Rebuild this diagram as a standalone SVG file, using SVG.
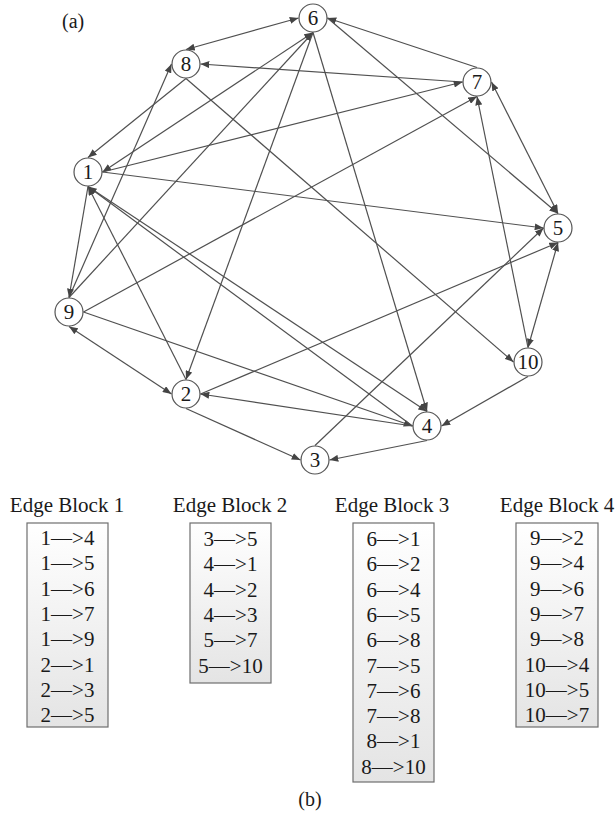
<svg xmlns="http://www.w3.org/2000/svg" width="615" height="818" viewBox="0 0 615 818">
  <style>
    .lbl { font-family: "Liberation Serif", "Times New Roman", serif; fill: #1a1a1a; }
    .node circle { fill: #ffffff; stroke: #555555; stroke-width: 1.2; }
    .node text { font-size: 21px; text-anchor: middle; }
    #connectors line { stroke: #505050; stroke-width: 1.2; fill: none; marker-end: url(#ah); }
    #connectors line.both { marker-start: url(#ah); }
    .block rect { fill: url(#boxfill); stroke: #6e6e6e; stroke-width: 1.2; }
    .block text { text-anchor: middle; }
    .title { font-size: 21px; }
    .row { font-size: 21px; }
  </style>
  <defs>
    <marker id="ah" viewBox="0 0 10 8" refX="10" refY="4" markerWidth="9" markerHeight="7" markerUnits="userSpaceOnUse" orient="auto-start-reverse">
      <path d="M0,0 L10,4 L0,8 z" fill="#444444"/>
    </marker>
    <linearGradient id="boxfill" x1="0" y1="0" x2="0" y2="1">
      <stop offset="0" stop-color="#ffffff"/>
      <stop offset="1" stop-color="#e4e4e4"/>
    </linearGradient>
  </defs>

  <rect width="615" height="818" fill="#ffffff"/>

  <text class="lbl" x="62" y="28" font-size="20">(a)</text>

  <!-- connectors attach to the top/right/bottom/left points of each circle -->
  <g id="connectors">
    <line class="both" x1="298.5" y1="18" x2="186" y2="49.5"/>
    <line x1="462.5" y1="82" x2="200.5" y2="64"/>
    <line x1="477" y1="67.5" x2="327.5" y2="18"/>
    <line class="both" x1="102.5" y1="172" x2="313" y2="32.5"/>
    <line x1="69" y1="297.5" x2="313" y2="32.5"/>
    <line x1="313" y1="32.5" x2="186" y2="379.5"/>
    <line x1="313" y1="32.5" x2="427" y2="411.5"/>
    <line x1="327.5" y1="18" x2="558" y2="213.5"/>
    <line class="both" x1="69" y1="326.5" x2="171.5" y2="394"/>
    <line x1="83.5" y1="312" x2="477" y2="96.5"/>
    <line x1="83.5" y1="312" x2="412.5" y2="426"/>
    <line x1="69" y1="297.5" x2="171.5" y2="64"/>
    <line x1="88" y1="186.5" x2="69" y2="297.5"/>
    <line x1="186" y1="78.5" x2="88" y2="157.5"/>
    <line x1="186" y1="78.5" x2="513.5" y2="362"/>
    <line x1="102.5" y1="172" x2="543.5" y2="228"/>
    <line x1="102.5" y1="172" x2="462.5" y2="82"/>
    <line x1="88" y1="186.5" x2="427" y2="411.5"/>
    <line x1="412.5" y1="426" x2="88" y2="186.5"/>
    <line x1="186" y1="379.5" x2="88" y2="186.5"/>
    <line x1="186" y1="408.5" x2="300.5" y2="460"/>
    <line x1="200.5" y1="394" x2="558" y2="242.5"/>
    <line x1="315" y1="445.5" x2="543.5" y2="228"/>
    <line x1="412.5" y1="426" x2="200.5" y2="394"/>
    <line x1="427" y1="440.5" x2="329.5" y2="460"/>
    <line class="both" x1="558" y1="213.5" x2="491.5" y2="82"/>
    <line class="both" x1="558" y1="242.5" x2="528" y2="347.5"/>
    <line x1="528" y1="347.5" x2="477" y2="96.5"/>
    <line x1="528" y1="376.5" x2="441.5" y2="426"/>
  </g>

  <g id="node-1" class="node"><circle cx="88" cy="172" r="14"/><text class="lbl" x="88" y="179">1</text></g>
  <g id="node-2" class="node"><circle cx="186" cy="394" r="14"/><text class="lbl" x="186" y="401">2</text></g>
  <g id="node-3" class="node"><circle cx="315" cy="460" r="14"/><text class="lbl" x="315" y="467">3</text></g>
  <g id="node-4" class="node"><circle cx="427" cy="426" r="14"/><text class="lbl" x="427" y="433">4</text></g>
  <g id="node-5" class="node"><circle cx="558" cy="228" r="14"/><text class="lbl" x="558" y="235">5</text></g>
  <g id="node-6" class="node"><circle cx="313" cy="18" r="14"/><text class="lbl" x="313" y="25">6</text></g>
  <g id="node-7" class="node"><circle cx="477" cy="82" r="14"/><text class="lbl" x="477" y="89">7</text></g>
  <g id="node-8" class="node"><circle cx="186" cy="64" r="14"/><text class="lbl" x="186" y="71">8</text></g>
  <g id="node-9" class="node"><circle cx="69" cy="312" r="14"/><text class="lbl" x="69" y="319">9</text></g>
  <g id="node-10" class="node"><circle cx="528" cy="362" r="14"/><text class="lbl" x="528" y="369">10</text></g>

  <!-- edge block lists -->
  <g id="block-1" class="block">
    <text class="lbl title" x="67" y="512">Edge Block 1</text>
    <rect x="27" y="523" width="81" height="204"/>
    <text class="lbl row" x="67.5" y="545">1—&gt;4</text>
    <text class="lbl row" x="67.5" y="570.3">1—&gt;5</text>
    <text class="lbl row" x="67.5" y="595.6">1—&gt;6</text>
    <text class="lbl row" x="67.5" y="620.9">1—&gt;7</text>
    <text class="lbl row" x="67.5" y="646.2">1—&gt;9</text>
    <text class="lbl row" x="67.5" y="671.5">2—&gt;1</text>
    <text class="lbl row" x="67.5" y="696.8">2—&gt;3</text>
    <text class="lbl row" x="67.5" y="722.1">2—&gt;5</text>
  </g>

  <g id="block-2" class="block">
    <text class="lbl title" x="230" y="512">Edge Block 2</text>
    <rect x="190" y="523" width="81" height="160"/>
    <text class="lbl row" x="230.5" y="546">3—&gt;5</text>
    <text class="lbl row" x="230.5" y="571.3">4—&gt;1</text>
    <text class="lbl row" x="230.5" y="596.6">4—&gt;2</text>
    <text class="lbl row" x="230.5" y="621.9">4—&gt;3</text>
    <text class="lbl row" x="230.5" y="647.2">5—&gt;7</text>
    <text class="lbl row" x="230.5" y="672.5">5—&gt;10</text>
  </g>

  <g id="block-3" class="block">
    <text class="lbl title" x="392" y="512">Edge Block 3</text>
    <rect x="353" y="523" width="81" height="259"/>
    <text class="lbl row" x="393.5" y="546">6—&gt;1</text>
    <text class="lbl row" x="393.5" y="571.3">6—&gt;2</text>
    <text class="lbl row" x="393.5" y="596.6">6—&gt;4</text>
    <text class="lbl row" x="393.5" y="621.9">6—&gt;5</text>
    <text class="lbl row" x="393.5" y="647.2">6—&gt;8</text>
    <text class="lbl row" x="393.5" y="672.5">7—&gt;5</text>
    <text class="lbl row" x="393.5" y="697.8">7—&gt;6</text>
    <text class="lbl row" x="393.5" y="723.1">7—&gt;8</text>
    <text class="lbl row" x="393.5" y="748.4">8—&gt;1</text>
    <text class="lbl row" x="393.5" y="773.7">8—&gt;10</text>
  </g>

  <g id="block-4" class="block">
    <text class="lbl title" x="557" y="512">Edge Block 4</text>
    <rect x="516" y="523" width="82" height="204"/>
    <text class="lbl row" x="557" y="545">9—&gt;2</text>
    <text class="lbl row" x="557" y="570.3">9—&gt;4</text>
    <text class="lbl row" x="557" y="595.6">9—&gt;6</text>
    <text class="lbl row" x="557" y="620.9">9—&gt;7</text>
    <text class="lbl row" x="557" y="646.2">9—&gt;8</text>
    <text class="lbl row" x="557" y="671.5">10—&gt;4</text>
    <text class="lbl row" x="557" y="696.8">10—&gt;5</text>
    <text class="lbl row" x="557" y="722.1">10—&gt;7</text>
  </g>

  <text class="lbl" x="310" y="806" font-size="20" text-anchor="middle">(b)</text>
</svg>
